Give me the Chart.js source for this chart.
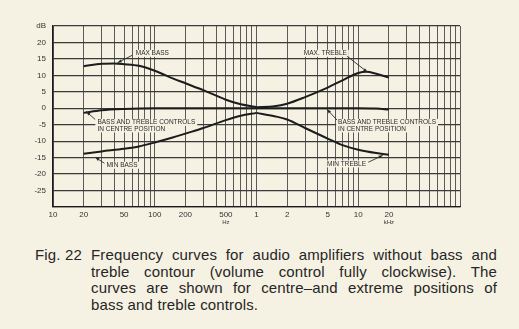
<!DOCTYPE html>
<html>
<head>
<meta charset="utf-8">
<script src="https://cdn.jsdelivr.net/npm/chart.js@4"></script>
<style>
  body { margin: 0; background: #f5f2e3; width: 519px; height: 329px; overflow: hidden; position: relative;
         font-family: "Liberation Sans", Arial, sans-serif; }
  #wrap { position: absolute; left: 0; top: 0; width: 519px; height: 235px; }
  .cap { position: absolute; top: 247px; font-size: 15px; line-height: 16.5px; color: #262626; letter-spacing: 0.15px; }
  #num { left: 35px; }
  #txt { left: 91px; width: 406px; }
  #txt div { text-align: justify; text-align-last: justify; white-space: nowrap; }
  #txt div.last { text-align-last: left; }
</style>
</head>
<body>
<div id="wrap"><canvas id="c"></canvas></div>
<div class="cap" id="num">Fig. 22</div>
<div class="cap" id="txt">
  <div>Frequency curves for audio amplifiers without bass and</div>
  <div>treble contour (volume control fully clockwise). The</div>
  <div>curves are shown for centre&#8211;and extreme positions of</div>
  <div class="last">bass and treble controls.</div>
</div>
<script>
// ---- data ----
const maxBassHz = [20, 30, 40, 50, 70, 100, 150, 200, 300, 500, 700, 1000];
const maxBassDb = [12.8, 13.5, 13.6, 13.4, 12.9, 11.4, 9.1, 7.6, 5.5, 2.6, 1.2, 0.4];

const maxTrebleHz = [1000, 1500, 2000, 3000, 5000, 7000, 10000, 12000, 15000, 20000];
const maxTrebleDb = [0.3, 0.6, 1.4, 3.4, 6.3, 8.5, 10.7, 11.1, 10.5, 9.3];

const centreHz = [20, 30, 50, 100, 1000, 10000, 15000, 20000];
const centreDb = [-1.4, -0.6, -0.2, 0, 0, 0, -0.1, -0.4];

const minBassHz = [20, 30, 50, 70, 100, 150, 200, 300, 500, 700, 1000];
const minBassDb = [-13.8, -13.1, -12.3, -11.6, -10.4, -8.9, -7.7, -6.0, -3.6, -2.3, -1.4];

const minTrebleHz = [1000, 1500, 2000, 3000, 5000, 7000, 10000, 15000, 20000];
const minTrebleDb = [-1.4, -2.4, -3.4, -6.0, -9.2, -11.2, -12.6, -13.6, -14.1];

const xTickValues = [10, 20, 50, 100, 200, 500, 1000, 2000, 5000, 10000, 20000];
const xTickLabels = ["10", "20", "50", "100", "200", "500", "1", "2", "5", "10", "20"];
const yTickValues = [-30, -25, -20, -15, -10, -5, 0, 5, 10, 15, 20, 25];
const yTickLabels = ["", "-25", "-20", "-15", "-10", "-5", "0", "5", "10", "15", "20", "dB"];

// grid lines: 1..9 per decade
const gridHz = [];
[10, 100, 1000, 10000].forEach(d => { for (let k = 1; k <= 9; k++) gridHz.push(d * k); });
gridHz.push(100000);

// curve labels (freq, dB of text, then leader from -> to)
const notes = [
  { lines: ["MAX BASS"], at: [65, 16.7], from: [60, 16.1], to: [43, 13.8] },
  { lines: ["MAX. TREBLE"], at: [2920, 16.7], from: [7780, 15.8], to: [12300, 11.0] },
  { lines: ["BASS AND TREBLE CONTROLS", "IN CENTRE POSITION"], at: [27.3, -4.3], from: [26, -3.4], to: [21.2, -1.0] },
  { lines: ["BASS AND TREBLE CONTROLS", "IN CENTRE POSITION"], at: [6340, -4.3], from: [6190, -3.6], to: [4930, -0.3] },
  { lines: ["MIN BASS"], at: [33.5, -17.3], from: [32, -16.7], to: [26, -14.9] },
  { lines: ["MIN TREBLE"], at: [4930, -16.9], from: [12560, -16.4], to: [17400, -14.3] }
];
const unitLabels = [{ text: "Hz", at: 500 }, { text: "kHz", at: 20000 }];

const toPts = (hz, db) => hz.map((f, i) => ({ x: f, y: db[i] }));

const ink = "#1c1c1c";
const paper = "#f5f2e3";
const noteFont = "6.5px 'Liberation Sans', Arial, sans-serif";

const line = (label, hz, db) => ({
  label, data: toPts(hz, db),
  borderColor: ink, borderWidth: 2, pointRadius: 0,
  cubicInterpolationMode: "monotone", fill: false
});

const notePlugin = {
  id: "notes",
  // paper patches behind the label text, under the curves
  beforeDatasetsDraw(chart) {
    const { ctx, scales: { x, y } } = chart;
    ctx.save();
    ctx.font = noteFont;
    ctx.fillStyle = paper;
    notes.forEach(n => {
      const px = x.getPixelForValue(n.at[0]);
      const py = y.getPixelForValue(n.at[1]);
      n.lines.forEach((s, i) => {
        ctx.fillRect(px - 2, py - 3.5 + i * 6.5, ctx.measureText(s).width + 4, 7);
      });
    });
    ctx.restore();
  },
  afterDatasetsDraw(chart) {
    const { ctx, scales: { x, y } } = chart;
    ctx.save();
    ctx.font = noteFont;
    ctx.textBaseline = "middle";
    ctx.textAlign = "left";
    notes.forEach(n => {
      const px = x.getPixelForValue(n.at[0]);
      const py = y.getPixelForValue(n.at[1]);
      ctx.fillStyle = "#2a2a2a";
      n.lines.forEach((s, i) => ctx.fillText(s, px, py + i * 6.5));
      // leader
      const x1 = x.getPixelForValue(n.from[0]), y1 = y.getPixelForValue(n.from[1]);
      const x2 = x.getPixelForValue(n.to[0]), y2 = y.getPixelForValue(n.to[1]);
      ctx.strokeStyle = "#2a2a2a";
      ctx.lineWidth = 0.9;
      ctx.beginPath(); ctx.moveTo(x1, y1); ctx.lineTo(x2, y2); ctx.stroke();
      const a = Math.atan2(y2 - y1, x2 - x1);
      ctx.beginPath();
      ctx.moveTo(x2, y2);
      ctx.lineTo(x2 - 4.5 * Math.cos(a - 0.35), y2 - 4.5 * Math.sin(a - 0.35));
      ctx.lineTo(x2 - 4.5 * Math.cos(a + 0.35), y2 - 4.5 * Math.sin(a + 0.35));
      ctx.closePath(); ctx.fill();
    });
    ctx.font = "6px 'Liberation Sans', Arial, sans-serif";
    ctx.textAlign = "center";
    ctx.fillStyle = "#333";
    unitLabels.forEach(u => {
      ctx.fillText(u.text, x.getPixelForValue(u.at), chart.chartArea.bottom + 15);
    });
    ctx.restore();
  }
};

new Chart(document.getElementById("c"), {
  type: "line",
  data: {
    datasets: [
      line("MAX BASS", maxBassHz, maxBassDb),
      line("MAX. TREBLE", maxTrebleHz, maxTrebleDb),
      line("CENTRE", centreHz, centreDb),
      line("MIN BASS", minBassHz, minBassDb),
      line("MIN TREBLE", minTrebleHz, minTrebleDb)
    ]
  },
  options: {
    responsive: true,
    maintainAspectRatio: false,
    animation: false,
    devicePixelRatio: 1,
    layout: { padding: { left: 0, right: 59, top: 26, bottom: 0 } },
    plugins: { legend: { display: false }, tooltip: { enabled: false } },
    scales: {
      x: {
        type: "logarithmic", min: 10, max: 100000,
        afterBuildTicks(s) { s.ticks = gridHz.map(v => ({ value: v })); },
        afterFit(s) { s.height = 28; },
        ticks: {
          autoSkip: false, maxRotation: 0, padding: 3, color: "#333",
          font: { size: 8, family: "'Liberation Sans', Arial" },
          callback: v => { const i = xTickValues.indexOf(v); return i < 0 ? "" : xTickLabels[i]; }
        },
        grid: { color: "#5a5a5a", lineWidth: 1, drawTicks: false },
        border: { color: ink, width: 1.3 }
      },
      y: {
        type: "linear", min: -30, max: 25,
        afterBuildTicks(s) { s.ticks = yTickValues.map(v => ({ value: v })); },
        afterFit(s) { s.width = 53; },
        ticks: {
          padding: 7, color: "#333",
          font: { size: 8, family: "'Liberation Sans', Arial" },
          callback: v => { const i = yTickValues.indexOf(v); return i < 0 ? "" : yTickLabels[i]; }
        },
        grid: { color: "#3a3a3a", lineWidth: 1.2, drawTicks: false },
        border: { color: ink, width: 1.3 }
      }
    }
  },
  plugins: [notePlugin]
});
</script>
</body>
</html>
